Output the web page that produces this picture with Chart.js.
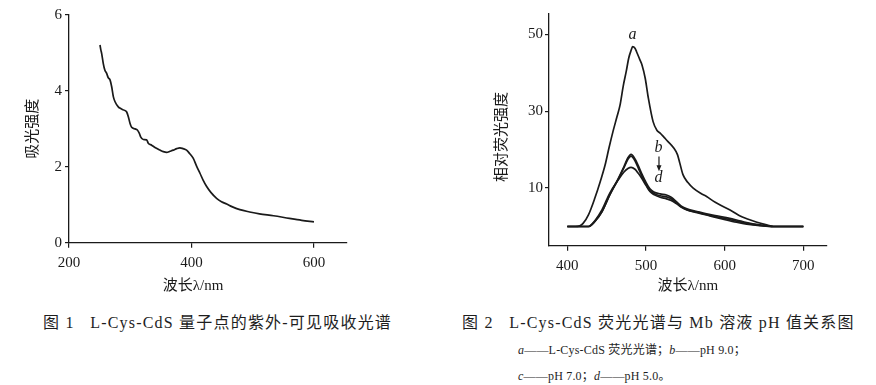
<!DOCTYPE html>
<html><head><meta charset="utf-8">
<script src="https://cdn.jsdelivr.net/npm/chart.js@4"></script>
<style>
html,body{margin:0;padding:0;background:#fff;width:876px;height:385px;overflow:hidden;}
.c{position:absolute;}
.cap{position:absolute;white-space:nowrap;color:#1e1e1e;font-family:"Liberation Serif","Noto Sans CJK SC",serif;line-height:1;}
.cap i{font-style:italic;}
</style></head><body>
<div class="c" style="left:0;top:0;width:440px;height:300px"><canvas id="c1"></canvas></div>
<div class="c" style="left:460px;top:0;width:416px;height:300px"><canvas id="c2"></canvas></div>
<div class="cap" id="cap1" style="left:43px;top:315px;font-size:16px;letter-spacing:1.2px;">图 1&nbsp;&nbsp; L-Cys-CdS 量子点的紫外-可见吸收光谱</div>
<div class="cap" id="cap2" style="left:462px;top:315px;font-size:16px;letter-spacing:1.2px;">图 2&nbsp;&nbsp; L-Cys-CdS 荧光光谱与 Mb 溶液 pH 值关系图</div>
<div class="cap" id="cap3" style="left:518px;top:344px;font-size:12px;letter-spacing:0.2px;"><i>a</i>——L-Cys-CdS 荧光光谱；<i>b</i>——pH 9.0；</div>
<div class="cap" id="cap4" style="left:518px;top:370px;font-size:12px;letter-spacing:0.2px;"><i>c</i>——pH 7.0；<i>d</i>——pH 5.0。</div>
<script>
// ---- Figure 1: UV-Vis absorption ----
const uvWavelength = [250.6,252,253.3,256,258.5,261.5,264,267,269.7,272.4,275,280.5,285,288.7,294,296.9,299.6,302.3,307.8,311.6,314.9,317,321.3,326.8,329.5,335,340.4,348.6,354,359.5,365,370.3,376,381.2,386,392,397,403,408,413.9,419,424.8,432,441,449,457.5,466,479,495,511,534,560,580,600];
const uvAbsorbance = [5.21,5.08,4.99,4.72,4.55,4.46,4.35,4.29,4.11,3.85,3.72,3.58,3.53,3.50,3.45,3.32,3.15,3.04,3.00,2.97,2.88,2.79,2.72,2.71,2.62,2.57,2.51,2.44,2.40,2.38,2.41,2.44,2.48,2.50,2.48,2.44,2.35,2.22,2.03,1.83,1.65,1.48,1.32,1.17,1.08,1.02,0.95,0.87,0.81,0.76,0.71,0.64,0.59,0.55];
const uvXTicks = [200,400,600];
const uvYTicks = [0,2,4,6];

// ---- Figure 2: fluorescence ----
const flWavelengthA = [400,410,416,420,427,435,442,448,453,458,463,467,471,475,478,481,483,486,488,492,495,499,503,509,514,518,523,528,535,540,543,547,553,560,570,577,588,598,610,619,630,641,652,662,680,700];
const flIntensityA = [0,0,0.2,0.8,3.1,7.4,11.8,16,20.5,24.7,28.5,31.6,36.5,40.5,43.8,45.8,46.8,46.4,45.5,43.5,42,38.6,33.4,27.3,25,24.3,23.2,22.1,20.5,18.7,16.5,13.5,11.5,10,8.6,7.8,6.3,5.2,3.9,2.8,1.9,1.1,0.5,0,0,0];
const flWavelengthBCD = [400,427,435,444,454,465,472,477,481,486,490,495,500,505,510,518,526,532,539,545,552,565,577,590,602,615,628,645,662,700];
const flIntensityB = [0,0,1.3,3.9,8.3,12.6,15.6,17.9,18.8,17.6,15.9,13.6,11.5,9.8,9.0,8.5,8.2,7.6,6.4,5.3,4.6,3.9,3.3,2.8,2.3,1.7,1.0,0.4,0,0];
const flIntensityC = [0,0,1.3,3.8,8.2,12.4,15.3,17.5,18.3,17.1,15.3,13.0,11.0,9.3,8.6,8.0,7.7,7.2,6.1,5.1,4.4,3.7,3.1,2.5,2.0,1.4,0.8,0.3,0,0];
const flIntensityD = [0,0,1.5,4.3,8.7,12.2,14.2,15.1,15.4,14.9,13.9,12.4,10.7,9.1,8.3,7.6,7.2,6.8,5.9,5.0,4.3,3.6,3.0,2.3,1.7,1.1,0.6,0.2,0,0];
const flXTicks = [400,500,600,700];
const flYTicks = [10,30,50];
const curveLabelText = ['a','b','d'];
const curveLabelWl = [483,516,516];
const curveLabelVal = [50,20.4,12.6];

const INK = '#1a1a1a';
const NUM_FONT = {family:'"Liberation Serif", serif', size:15};
const TITLE_FONT = {family:'"Liberation Serif", "Noto Sans CJK SC", serif', size:15};

function pts(xs, ys){ return xs.map((x,i)=>({x:x, y:ys[i]})); }
function lineDs(xs, ys){
  return {data:pts(xs,ys), borderColor:INK, borderWidth:1.7, pointRadius:0, fill:false,
          cubicInterpolationMode:'monotone', tension:0.3};
}
function axis(opts){
  return {
    type:'linear', min:opts.min, max:opts.max,
    afterBuildTicks: s => { s.ticks = opts.ticks.map(v=>({value:v})); },
    afterFit: s => { if (opts.w) s.width = opts.w; if (opts.h) s.height = opts.h; },
    grid:{display:true, drawOnChartArea:false, drawTicks:true, tickLength:opts.tl, color:INK, lineWidth:1.2},
    border:{display:true, color:INK, width:1.3},
    ticks:{color:INK, font:NUM_FONT, padding:opts.tp, maxRotation:0, autoSkip:false},
    title:{display:true, text:opts.title, color:INK, font:TITLE_FONT, padding:opts.titlePad}
  };
}

const labelPlugin = {
  id:'curveLabels',
  afterDatasetsDraw(chart){
    const {ctx, scales:{x, y}} = chart;
    ctx.save();
    ctx.fillStyle = INK; ctx.strokeStyle = INK;
    ctx.font = 'italic 16px "Liberation Serif", serif';
    ctx.textAlign = 'center'; ctx.textBaseline = 'middle';
    curveLabelText.forEach((t,i)=>ctx.fillText(t, x.getPixelForValue(curveLabelWl[i]), y.getPixelForValue(curveLabelVal[i])));
    const ax = x.getPixelForValue(516.5), y0 = y.getPixelForValue(18.2), y1 = y.getPixelForValue(14.4);
    ctx.lineWidth = 1.2;
    ctx.beginPath(); ctx.moveTo(ax, y0); ctx.lineTo(ax, y1 - 4); ctx.stroke();
    ctx.beginPath(); ctx.moveTo(ax-2.5, y1-6); ctx.lineTo(ax+2.5, y1-6); ctx.lineTo(ax, y1); ctx.closePath(); ctx.fill();
    ctx.restore();
  }
};

const common = {responsive:true, maintainAspectRatio:false, animation:false,
  plugins:{legend:{display:false}, tooltip:{enabled:false}}};

new Chart(document.getElementById('c1'), {
  type:'line',
  data:{datasets:[lineDs(uvWavelength, uvAbsorbance)]},
  options:Object.assign({}, common, {
    layout:{padding:{left:0, top:15, right:93, bottom:0}},
    scales:{
      x: axis({min:200, max:654, ticks:uvXTicks, h:57.3, tl:5, tp:6, title:'波长λ/nm\u2003\u2003', titlePad:{top:0,bottom:5}}),
      y: axis({min:0, max:6, ticks:uvYTicks, w:69, tl:4, tp:3, title:'吸光强度', titlePad:{top:24,bottom:0}})
    }
  })
});

new Chart(document.getElementById('c2'), {
  type:'line',
  data:{datasets:[lineDs(flWavelengthA, flIntensityA), lineDs(flWavelengthBCD, flIntensityB), lineDs(flWavelengthBCD, flIntensityC), lineDs(flWavelengthBCD, flIntensityD)]},
  options:Object.assign({}, common, {
    layout:{padding:{left:0, top:13.3, right:49.3, bottom:0}},
    scales:{
      x: axis({min:376.7, max:729.7, ticks:flXTicks, h:54.3, tl:5, tp:6, title:'波长λ/nm', titlePad:{top:0,bottom:5}}),
      y: axis({min:-5, max:55.5, ticks:flYTicks, w:89, tl:4, tp:2, title:'相对荧光强度\u2003', titlePad:{top:32.7,bottom:0}})
    }
  }),
  plugins:[labelPlugin]
});
</script>
</body></html>
